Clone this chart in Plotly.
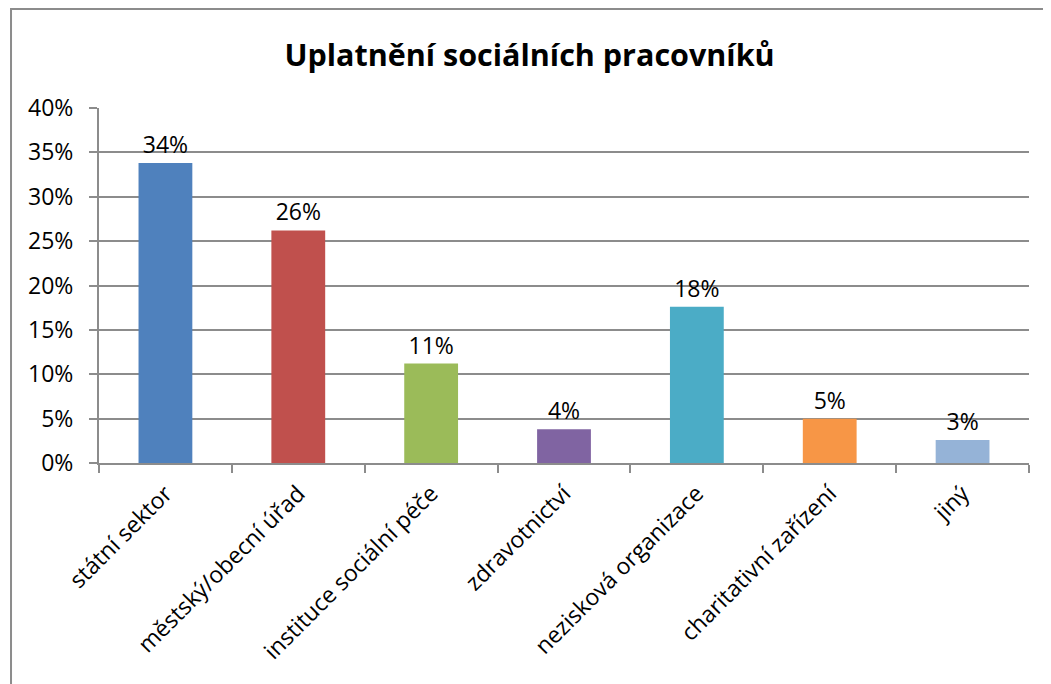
import plotly.graph_objects as go

# data
categories = ["státní sektor", "městský/obecní úřad", "instituce sociální péče",
              "zdravotnictví", "nezisková organizace", "charitativní zařízení", "jiný"]
shares = [0.338, 0.262, 0.112, 0.038, 0.176, 0.050, 0.026]
colors = ["#4F81BD", "#C0504D", "#9BBB59", "#8064A2", "#4BACC6", "#F79646", "#95B3D7"]
y_ticks = [0, 0.05, 0.10, 0.15, 0.20, 0.25, 0.30, 0.35, 0.40]

font = "Open Sans"
grid = "#8c8c8c"

fig = go.Figure(go.Bar(
    x=categories, y=shares, marker_color=colors, marker_line_width=0,
    texttemplate="%{y:.0%}", textposition="outside", cliponaxis=False,
    textfont=dict(family=font, size=23, color="#000000"),
    width=0.405,
))

fig.update_xaxes(
    type="category", showgrid=False, showline=True, linecolor=grid, linewidth=2,
    ticks="outside", tickson="boundaries", ticklen=8, tickcolor=grid, tickwidth=2,
    tickangle=-45, ticklabelstandoff=6,
    tickfont=dict(family=font, size=23, color="#000000"),
)
fig.update_yaxes(
    range=[0, 0.40], tickvals=y_ticks, tickformat=".0%",
    showgrid=True, gridcolor=grid, gridwidth=2,
    showline=True, linecolor=grid, linewidth=2,
    ticks="outside", ticklen=8, tickcolor=grid, tickwidth=2,
    ticklabelstandoff=11, tickfont=dict(family=font, size=23, color="#000000"),
    zeroline=False,
)

# chart frame (cropped at right and bottom in the original)
fig.add_shape(type="rect", xref="paper", yref="paper",
              x0=-0.0946, x1=1.06, y0=-0.75, y1=1.279,
              line=dict(color="#8c8c8c", width=2), layer="below")

fig.update_layout(
    width=1043, height=676,
    margin=dict(l=91, r=22, t=100, b=221),
    paper_bgcolor="white", plot_bgcolor="white",
    showlegend=False, bargap=0.6,
    title=dict(text="<b>Uplatnění sociálních pracovníků</b>", x=0.5, xanchor="center",
               y=0.93, yanchor="middle",
               font=dict(family=font, size=30.5, color="#000000")),
)

fig.write_html("out.html")
